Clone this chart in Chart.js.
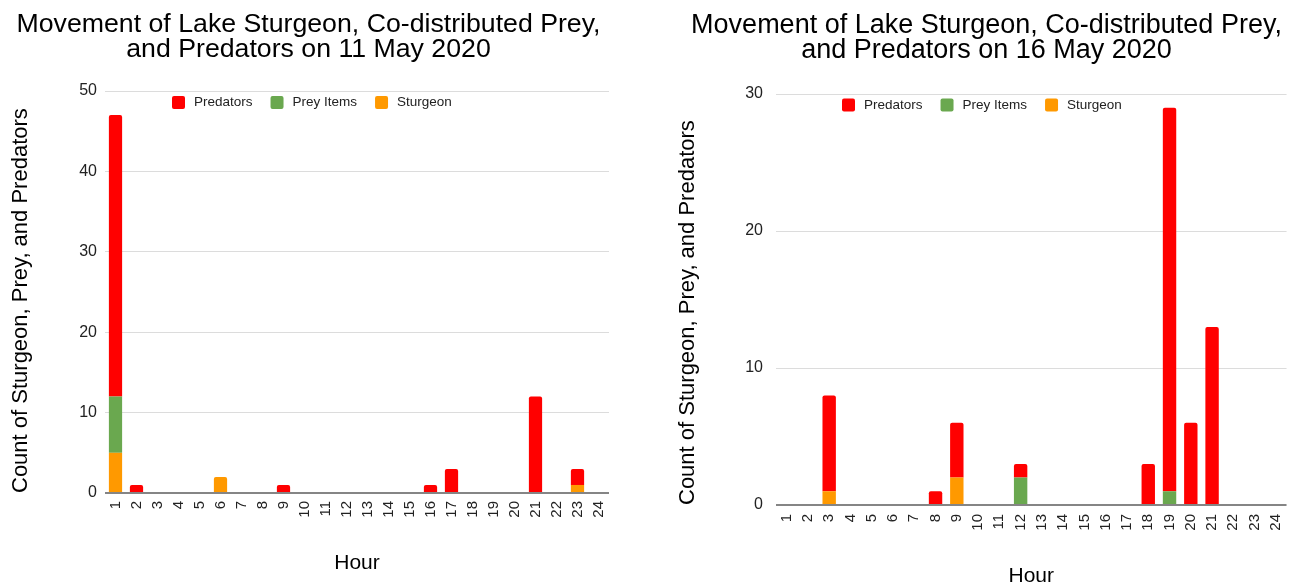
<!DOCTYPE html>
<html>
<head>
<meta charset="utf-8">
<script src="https://cdn.jsdelivr.net/npm/chart.js@4.4.1/dist/chart.umd.min.js"></script>
<style>
    html, body { margin: 0; padding: 0; background: #fff; }
    body { width: 1292px; height: 587px; position: relative; overflow: hidden; }
    .painel { position: absolute; top: 0; height: 587px; }
    #painel-11 { left: 8px; width: 622px; }
    #painel-16 { left: 675px; width: 628px; }
</style>
</head>
<body>
<div class="painel" id="painel-11"><canvas id="grafico11"></canvas></div>
<div class="painel" id="painel-16"><canvas id="grafico16"></canvas></div>
<script>
// Hours of the day (x axis)
const horas = ['1', '2', '3', '4', '5', '6', '7', '8', '9', '10', '11', '12',
               '13', '14', '15', '16', '17', '18', '19', '20', '21', '22', '23', '24'];

// 11 May 2020
const sturgeon11  = [5, 0, 0, 0, 0, 2, 0, 0, 0, 0, 0, 0, 0, 0, 0, 0, 0, 0, 0, 0, 0, 0, 1, 0];
const prey11      = [7, 0, 0, 0, 0, 0, 0, 0, 0, 0, 0, 0, 0, 0, 0, 0, 0, 0, 0, 0, 0, 0, 0, 0];
const predators11 = [35, 1, 0, 0, 0, 0, 0, 0, 1, 0, 0, 0, 0, 0, 0, 1, 3, 0, 0, 0, 12, 0, 2, 0];

// 16 May 2020
const sturgeon16  = [0, 0, 1, 0, 0, 0, 0, 0, 2, 0, 0, 0, 0, 0, 0, 0, 0, 0, 0, 0, 0, 0, 0, 0];
const prey16      = [0, 0, 0, 0, 0, 0, 0, 0, 0, 0, 0, 2, 0, 0, 0, 0, 0, 0, 1, 0, 0, 0, 0, 0];
const predators16 = [0, 0, 7, 0, 0, 0, 0, 1, 4, 0, 0, 1, 0, 0, 0, 0, 0, 3, 28, 6, 13, 0, 0, 0];

const yTicks11 = { max: 50, step: 10 };
const yTicks16 = { max: 30, step: 10 };

const FONTE = '"Liberation Sans", Arial, sans-serif';

// one-row legend drawn inside the plot, near the top (as in the original)
const legendaManual = {
    id: 'legendaManual',
    afterDraw(chart, args, opts) {
        const { ctx, chartArea } = chart;
        const itens = chart.data.datasets.slice().reverse();
        ctx.save();
        ctx.font = '13.5px ' + FONTE;
        ctx.textBaseline = 'middle';
        let x = chartArea.left + opts.dx;
        const y = chartArea.top + opts.dy;
        itens.forEach(ds => {
            ctx.fillStyle = ds.backgroundColor;
            ctx.beginPath();
            ctx.roundRect(x, y - 6.5, 13, 13, 2);
            ctx.fill();
            ctx.fillStyle = '#222';
            ctx.fillText(ds.label, x + 22, y);
            x += 22 + ctx.measureText(ds.label).width + 18;
        });
        ctx.restore();
    }
};

function criarGrafico(canvasId, cfg) {
    const ctx = document.getElementById(canvasId).getContext('2d');
    return new Chart(ctx, {
        type: 'bar',
        data: {
            labels: horas,
            datasets: [
                { label: 'Sturgeon', data: cfg.sturgeon, backgroundColor: '#ff9900' },
                { label: 'Prey Items', data: cfg.prey, backgroundColor: '#6aa84f' },
                { label: 'Predators', data: cfg.predators, backgroundColor: '#ff0000' }
            ]
        },
        options: {
            responsive: true,
            maintainAspectRatio: false,
            animation: false,
            datasets: {
                bar: { barPercentage: 0.63, categoryPercentage: 1, borderRadius: 2, borderWidth: 0 }
            },
            layout: { padding: { left: 0, right: cfg.padRight, top: 0, bottom: 0 } },
            scales: {
                x: {
                    stacked: true,
                    grid: { display: false, drawTicks: false },
                    border: { display: false },
                    ticks: {
                        autoSkip: false, maxRotation: 90, minRotation: 90, padding: cfg.xTickPad,
                        color: '#222', font: { family: FONTE, size: 15 }
                    },
                    title: {
                        display: true, text: 'Hour', color: '#000',
                        font: { family: FONTE, size: 21, lineHeight: 1.2 },
                        padding: { top: 0, bottom: cfg.hourPad }
                    },
                    afterFit: (scale) => { scale.height = cfg.xHeight; }
                },
                y: {
                    stacked: true,
                    min: 0,
                    max: cfg.yTicks.max,
                    ticks: {
                        stepSize: cfg.yTicks.step, padding: cfg.yTickPad,
                        color: '#222', font: { family: FONTE, size: 16 }
                    },
                    grid: {
                        drawTicks: false,
                        color: (c) => c.tick && c.tick.value === 0 ? '#858585' : '#dcdcdc',
                        lineWidth: (c) => c.tick && c.tick.value === 0 ? 2 : 1
                    },
                    border: { display: false },
                    title: {
                        display: true, align: 'start',
                        text: 'Count of Sturgeon, Prey, and Predators', color: '#000',
                        font: { family: FONTE, size: 22, lineHeight: 1.2 },
                        padding: { top: 0, bottom: 0 }
                    },
                    afterFit: (scale) => { scale.width = cfg.yWidth; }
                }
            },
            plugins: {
                title: {
                    display: true,
                    text: ['Movement of Lake Sturgeon, Co-distributed Prey,', 'and Predators on ' + cfg.data],
                    color: '#000',
                    font: { family: FONTE, size: cfg.titleSize, weight: 'normal', lineHeight: '25px' },
                    padding: { top: cfg.titleTop, bottom: cfg.titleBottom }
                },
                legend: { display: false },
                tooltip: { enabled: false },
                legendaManual: { dx: cfg.legendDx, dy: cfg.legendDy }
            }
        },
        plugins: [legendaManual]
    });
}

criarGrafico('grafico11', {
    data: '11 May 2020',
    sturgeon: sturgeon11, prey: prey11, predators: predators11, yTicks: yTicks11,
    padRight: 21, yWidth: 97, yTickPad: 8,
    xHeight: 94, xTickPad: 8, hourPad: 11,
    titleSize: 26.7, titleTop: 12, titleBottom: 29,
    legendDx: 67, legendDy: 11.5
});

criarGrafico('grafico16', {
    data: '16 May 2020',
    sturgeon: sturgeon16, prey: prey16, predators: predators16, yTicks: yTicks16,
    padRight: 5, yWidth: 101, yTickPad: 13,
    xHeight: 82, xTickPad: 9, hourPad: -2,
    titleSize: 27, titleTop: 13.5, titleBottom: 30.5,
    legendDx: 66, legendDy: 11
});
</script>
</body>
</html>
